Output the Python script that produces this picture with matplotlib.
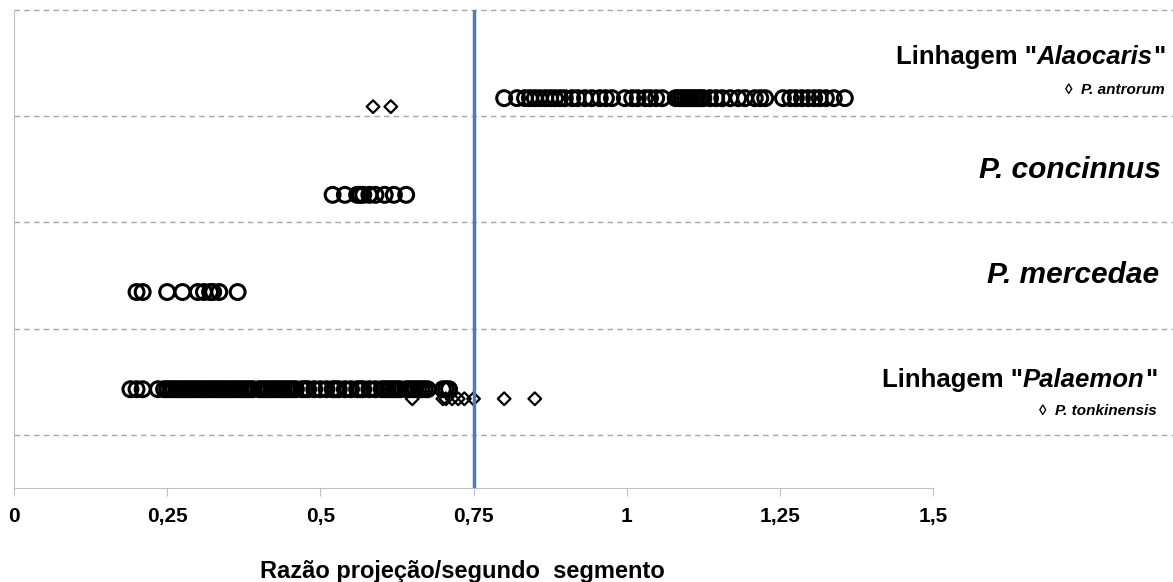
import matplotlib
matplotlib.use("Agg")
import matplotlib.pyplot as plt

plt.rcParams['font.family'] = ['Liberation Sans', 'DejaVu Sans']

# data (ratio projection / second segment)
alaocaris = [0.80, 0.821, 0.834, 0.842, 0.850, 0.858, 0.867, 0.875, 0.883, 0.891,
             0.899, 0.911, 0.920, 0.932, 0.943, 0.956, 0.966, 0.976, 0.997, 1.009,
             1.018, 1.030, 1.038, 1.048, 1.058, 1.08, 1.085, 1.09, 1.095, 1.10,
             1.105, 1.11, 1.115, 1.12, 1.125, 1.136, 1.146, 1.156, 1.169, 1.182,
             1.193, 1.209, 1.218, 1.226, 1.255, 1.267, 1.276, 1.286, 1.296, 1.306,
             1.315, 1.325, 1.338, 1.356]
antrorum = [0.586, 0.615]
concinnus = [0.52, 0.54, 0.56, 0.565, 0.57, 0.58, 0.59, 0.605, 0.62, 0.64]
mercedae = [0.20, 0.21, 0.25, 0.275, 0.30, 0.31, 0.32, 0.325, 0.335, 0.365]
palaemon = [0.19, 0.20, 0.21, 0.235, 0.245, 0.25, 0.255, 0.26, 0.265, 0.27,
            0.275, 0.28, 0.285, 0.29, 0.295, 0.30, 0.305, 0.31, 0.315, 0.32,
            0.325, 0.33, 0.335, 0.34, 0.345, 0.35, 0.355, 0.36, 0.365, 0.37,
            0.375, 0.38, 0.385, 0.39, 0.40, 0.405, 0.41, 0.415, 0.42, 0.425,
            0.43, 0.435, 0.44, 0.445, 0.45, 0.455, 0.46, 0.47, 0.475, 0.48,
            0.49, 0.50, 0.51, 0.52, 0.525, 0.53, 0.54, 0.55, 0.56, 0.565,
            0.57, 0.58, 0.59, 0.60, 0.605, 0.61, 0.615, 0.62, 0.625, 0.63,
            0.64, 0.645, 0.65, 0.655, 0.66, 0.665, 0.67, 0.675, 0.70, 0.705, 0.71]
tonkinensis = [0.65, 0.70, 0.705, 0.715, 0.725, 0.735, 0.75, 0.80, 0.85]

xticks = [0, 0.25, 0.5, 0.75, 1, 1.25, 1.5]
xtick_labels = ['0', '0,25', '0,5', '0,75', '1', '1,25', '1,5']
threshold = 0.75

fig = plt.figure(figsize=(11.73, 5.82), dpi=100)
ax = fig.add_axes([14 / 1173, 1 - 488 / 582, 1 - 14 / 1173, 478 / 582])

ax.set_xlim(0, 1.8916)
ax.set_ylim(0.5, 5.0)

# dashed separators
for y in [1, 2, 3, 4, 5]:
    ax.axhline(y, color='#a6a6a6', linestyle=(0, (4, 3)), linewidth=1, clip_on=False, zorder=1)

circ = dict(marker='o', s=115, facecolors='none', edgecolors='black', linewidths=2.2, zorder=3)
diam = dict(marker='D', s=42, facecolors='none', edgecolors='black', linewidths=1.6, zorder=3)

ax.scatter(alaocaris, [4.17] * len(alaocaris), **circ)
ax.scatter(antrorum, [4.09] * len(antrorum), **diam)
ax.scatter(concinnus, [3.26] * len(concinnus), **circ)
ax.scatter(mercedae, [2.345] * len(mercedae), **circ)
ax.scatter(palaemon, [1.43] * len(palaemon), **circ)
ax.scatter(tonkinensis, [1.34] * len(tonkinensis), **diam)

ax.axvline(threshold, color='#4a7ebb', linewidth=2.5, zorder=4)

# spines / ticks
for s in ['top', 'right']:
    ax.spines[s].set_visible(False)
ax.spines['left'].set_color('#bfbfbf')
ax.spines['bottom'].set_color('#bfbfbf')
ax.spines['bottom'].set_bounds(0, 1.5)
ax.set_yticks([])
ax.set_xticks(xticks)
ax.set_xticklabels(xtick_labels, fontsize=15, fontweight='bold')
ax.tick_params(axis='x', direction='out', length=6, color='#bfbfbf', pad=8)
ax.set_xlabel('Razão projeção/segundo  segmento', fontsize=17, fontweight='bold')
ax.xaxis.set_label_coords((462 - 14) / 1159, -0.151)


def px(x):
    return (x - 14) / 612.7


def label(xpix, y, parts, size):
    # draw pieces right to left so mixed styles line up
    prev = None
    for txt, style in reversed(parts):
        if prev is None:
            prev = ax.text(px(xpix), y, txt, ha='right', va='center', fontsize=size,
                           fontweight='bold', style=style)
        else:
            prev = ax.annotate(txt, xy=(0, 0), xycoords=prev, ha='right', va='bottom',
                               fontsize=size, fontweight='bold', style=style)


label(1165, 4.56, [('Linhagem "', 'normal'), ('Alaocaris', 'italic'), ('"', 'normal')], 18.5)
label(1165, 4.25, [('◊  ', 'normal'), ('P. antrorum', 'italic')], 11)
label(1161, 3.49, [('P. concinnus', 'italic')], 21.5)
label(1159, 2.505, [('P. mercedae', 'italic')], 21.5)
label(1157, 1.52, [('Linhagem "', 'normal'), ('Palaemon', 'italic'), ('"', 'normal')], 18.5)
label(1157, 1.225, [('◊  ', 'normal'), ('P. tonkinensis', 'italic')], 11)

fig.savefig('out.png', dpi=100)
